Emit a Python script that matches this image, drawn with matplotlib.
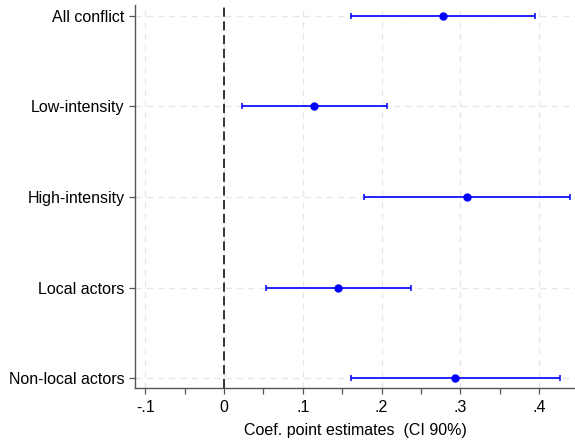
import matplotlib.pyplot as plt
import numpy as np

plt.rcParams['font.family'] = ['Liberation Sans', 'DejaVu Sans']

# coefficient estimates with 90% CI
labels = ['All conflict', 'Low-intensity', 'High-intensity', 'Local actors', 'Non-local actors']
coef = [0.278, 0.1146, 0.308, 0.1447, 0.2935]
ci_low = [0.161, 0.0225, 0.1777, 0.053, 0.161]
ci_high = [0.395, 0.2065, 0.439, 0.237, 0.4264]
xticks = [-0.1, 0, 0.1, 0.2, 0.3, 0.4]
xticklabels = ['-.1', '0', '.1', '.2', '.3', '.4']

coef = np.array(coef)
lo = coef - np.array(ci_low)
hi = np.array(ci_high) - coef
ypos = np.arange(len(labels))

fig = plt.figure(figsize=(5.75, 4.4), dpi=100)
ax = fig.add_axes([0.2348, 0.118, 0.7652, 0.871])

ax.errorbar(coef, ypos, xerr=[lo, hi], fmt='o', color='#0000ff', ms=5,
            elinewidth=1.2, capsize=2.5, capthick=1.1, zorder=3)
ax.axvline(0, color='black', ls=(0, (6, 3)), lw=1.1, zorder=2)

ax.set_xlim(-0.113, 0.4455)
ax.set_ylim(4.107, -0.118)
ax.set_yticks(ypos)
ax.set_yticklabels(labels)
ax.set_xticks(xticks)
ax.set_xticklabels(xticklabels)
ax.set_xticks(np.arange(-0.05, 0.45, 0.1), minor=True)
ax.grid(True, which='major', color='#e6e6e6', ls=(0, (5, 4)), lw=0.9, zorder=0)

for s in ['top', 'right']:
    ax.spines[s].set_visible(False)
for s in ['left', 'bottom']:
    ax.spines[s].set_color('#555555')
    ax.spines[s].set_linewidth(1.0)

ax.tick_params(axis='both', which='both', length=4.5, width=0.9, color='#555555',
               labelsize=11.5, pad=3)
ax.tick_params(axis='x', which='both', pad=4)
ax.set_xlabel('Coef. point estimates  (CI 90%)', fontsize=11.5, labelpad=6)

fig.savefig('out.png', dpi=100)
